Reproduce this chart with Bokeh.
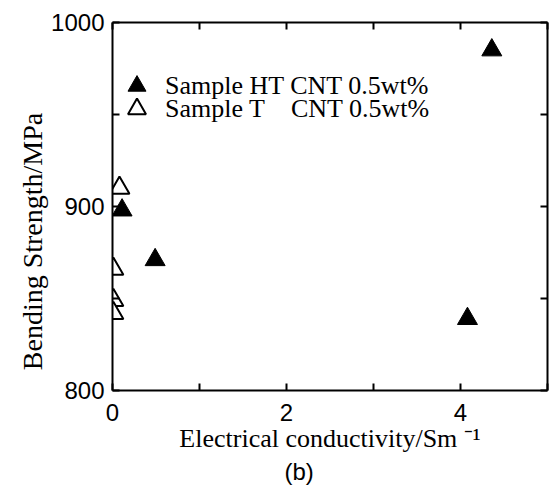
from bokeh.plotting import figure
from bokeh.models import Range1d, LinearAxis, FixedTicker, Legend, LegendItem, ColumnDataSource, Title
from bokeh.embed import file_html
from bokeh.resources import INLINE

# Data
ht_x = [0.11, 0.49, 4.08, 4.36]
ht_y = [898, 871, 839, 985]
t_x = [0.08, 0.01, 0.01, 0.01]
t_y = [910, 866, 849, 842]

x_ticks = [0, 1, 2, 3, 4, 5]
x_tick_labels = {0: "0", 1: "", 2: "2", 3: "", 4: "4", 5: ""}
y_ticks = [800, 850, 900, 950, 1000]
y_tick_labels = {800: "800", 850: "", 900: "900", 950: "", 1000: "1000"}

label_ht = "Sample HT CNT 0.5wt%"
label_t = "Sample T\u00a0\u00a0\u00a0 CNT 0.5wt%"
x_title = "Electrical conductivity/Sm \u207b\u00b9"
y_title = "Bending Strength/MPa" + "\u00a0" * 10
caption = "(b)"

SERIF = "Liberation Serif"
SANS = "Liberation Sans"

p = figure(width=553, height=486, x_range=Range1d(0, 5), y_range=Range1d(800, 1000),
           output_backend="svg", toolbar_location=None,
           x_axis_location=None, y_axis_location=None,
           min_border_left=112, min_border_right=6, min_border_top=22, min_border_bottom=96)
p.grid.visible = False
p.outline_line_color = None
p.background_fill_color = "white"
p.border_fill_color = "white"


def make_axis(ticks, overrides, show_labels, standoff):
    ax = LinearAxis(ticker=FixedTicker(ticks=ticks))
    ax.axis_line_width = 2
    ax.axis_line_color = "black"
    ax.major_tick_line_width = 2
    ax.major_tick_line_color = "black"
    ax.major_tick_in = 7
    ax.major_tick_out = 0
    ax.minor_tick_line_color = None
    ax.major_label_text_font = SANS
    ax.major_label_text_color = "black"
    ax.major_label_standoff = standoff
    if show_labels:
        ax.major_label_overrides = dict(overrides)
        ax.major_label_text_font_size = "24px"
    else:
        ax.major_label_overrides = {k: "" for k in overrides}
        ax.major_label_text_font_size = "1px"
        ax.major_label_standoff = 0
    return ax


left = make_axis(y_ticks, y_tick_labels, True, 8)
left.axis_label = y_title
left.axis_label_standoff = 0
left.axis_label_text_font = SERIF
left.axis_label_text_font_style = "normal"
left.axis_label_text_font_size = "28px"
left.axis_label_text_color = "black"
p.add_layout(left, "left")

below = make_axis(x_ticks, x_tick_labels, True, 13)
below.axis_label = x_title
below.axis_label_standoff = 0
below.axis_label_text_font = SERIF
below.axis_label_text_font_style = "normal"
below.axis_label_text_font_size = "26px"
below.axis_label_text_color = "black"
p.add_layout(below, "below")

p.add_layout(make_axis(x_ticks, x_tick_labels, False, 0), "above")
p.add_layout(make_axis(y_ticks, y_tick_labels, False, 0), "right")

p.add_layout(Title(text=caption, align="left", offset=172, standoff=1,
                   text_font=SANS, text_font_size="24px", text_font_style="normal",
                   text_color="black"), "below")

src_ht = ColumnDataSource(dict(x=ht_x, y=ht_y))
src_t = ColumnDataSource(dict(x=t_x, y=t_y))
r_ht = p.scatter("x", "y", source=src_ht, marker="triangle", size=20,
                 fill_color="black", line_color="black", line_width=1)
r_t = p.scatter("x", "y", source=src_t, marker="triangle", size=20,
                fill_color="white", line_color="black", line_width=2)

common = dict(glyph_width=45, glyph_height=45, padding=0, margin=0, label_standoff=6,
              label_text_font=SERIF, label_text_font_size="26px", label_text_color="black",
              background_fill_alpha=0, border_line_color=None)
leg1 = Legend(items=[LegendItem(label=label_ht, renderers=[r_ht])], location=(2, 282), **common)
leg2 = Legend(items=[LegendItem(label=label_t, renderers=[r_t])], location=(2, 259), **common)
p.add_layout(leg1)
p.add_layout(leg2)

open("out.html", "w").write(file_html(p, INLINE))
